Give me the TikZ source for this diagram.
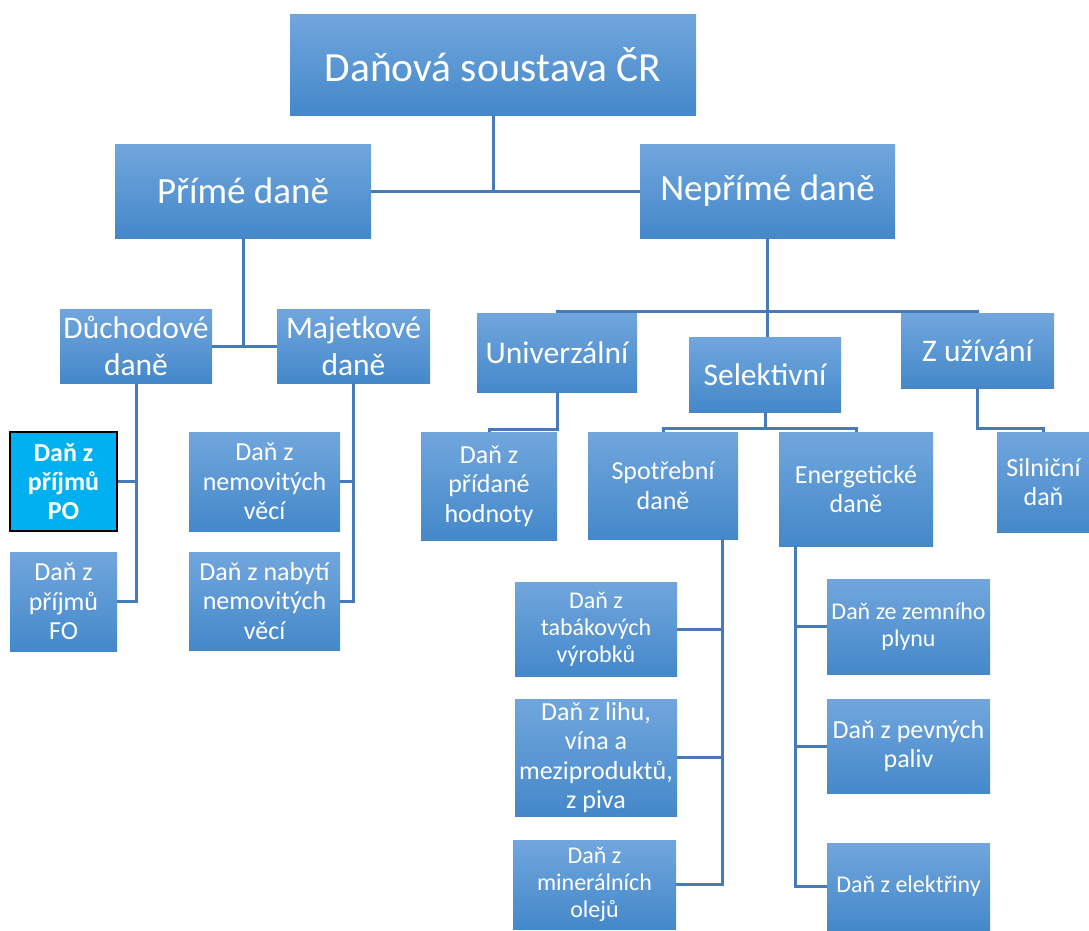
\documentclass[tikz,border=0pt]{standalone}
\usepackage{fontspec}
\setmainfont{Carlito}
\usepackage{tikz}
\usetikzlibrary{positioning}
\definecolor{tbtop}{RGB}{113,166,221}
\definecolor{tbbot}{RGB}{68,136,202}
\definecolor{tbsel}{RGB}{0,176,240}
\definecolor{linkcol}{RGB}{70,122,184}
\tikzset{
  dan schemes/.style = {
    x = 1pt, y = -1pt,
    % boxes
    tb/.style   = {rectangle, inner sep=0pt, align=center, text=white,
                   top color=tbtop, bottom color=tbbot},
    tbpick/.style = {tb, fill=tbsel, top color=tbsel, bottom color=tbsel,
                   draw=black, line width=2.5pt},
    % font sizes
    f0/.style = {font=\fontsize{41.5}{48}\selectfont},
    f1/.style = {font=\fontsize{37}{44}\selectfont},
    f2/.style = {font=\fontsize{31.5}{37}\selectfont},
    f3/.style = {font=\fontsize{26}{29.5}\selectfont},
    f3b/.style = {font=\bfseries\fontsize{26}{29}\selectfont},
    f4/.style = {font=\fontsize{24}{27}\selectfont},
    % lines
    link line/.style = {line width=3pt, linkcol},
  }
}
\begin{document}
\begin{tikzpicture}[dan schemes]
\def\tbox#1(#2)<#3,#4>[#5] at (#6);{
  \node[#1, minimum width=#3, minimum height=#4] (#2) at (#6) {#5};}

\useasboundingbox (0,0) rectangle (1089,930);

%--------------------------------------------- levels 0, 1
\tbox{tb,f0}(root)<406,101>[Daňová soustava ČR] at (493,64.5);
\tbox{tb,f1}(prime)<256,94>[Přímé daně] at (243,191);
\tbox{tb,f1}(neprime)<255,94>[Nepřímé daně] at (767.5,191);

%--------------------------------------------- přímé daně
\tbox{tb,f2}(duch)<152,74>[Důchodové\\daně] at (136,346);
\tbox{tb,f2}(majet)<153,74>[Majetkové\\daně] at (353.5,346);
\tbox{tbpick,f3b}(po)<107,99>[Daň z\\příjmů\\PO] at (63.5,481.5);
\tbox{tb,f3}(fo)<107,99>[Daň z\\příjmů\\FO] at (63.5,601.5);
\tbox{tb,f3}(nemov)<151,99>[Daň z\\nemovitých\\věcí] at (264.5,481.5);
\tbox{tb,f3}(nabyti)<151,98>[Daň z nabytí\\nemovitých\\věcí] at (264.5,601);

%--------------------------------------------- nepřímé daně
\tbox{tb,f2}(univ)<160,79>[Univerzální] at (557,352.5);
\tbox{tb,f2}(selekt)<152,75>[Selektivní] at (765,374.5);
\tbox{tb,f2}(zuziv)<153,75>[Z užívání] at (977.5,350.5);
\tbox{tb,f3}(dph)<136,108>[Daň z\\přídané\\hodnoty] at (489,486);
\tbox{tb,f3}(spotr)<150,107>[Spotřební\\daně] at (663,485.5);
\tbox{tb,f3}(energ)<154,114>[Energetické\\daně] at (856,489);
\tbox{tb,f3}(silnic)<93,100>[Silniční\\daň] at (1043.5,482);

\tbox{tb,f4}(tabak)<162,94>[Daň z\\tabákových\\výrobků] at (596,629);
\tbox{tb,f3}(lihu)<162,117>[Daň z lihu,\\vína a\\meziproduktů,\\z piva] at (596,757.5);
\tbox{tb,f4}(miner)<163,89>[Daň z\\minerálních\\olejů] at (594.5,884.5);
\tbox{tb,f4}(zemni)<163,95>[Daň ze zemního\\plynu] at (908.5,626.5);
\tbox{tb,f3}(pevne)<163,94>[Daň z pevných\\paliv] at (908.5,746);
\tbox{tb,f4}(elektr)<163,87>[Daň z elektřiny] at (908.5,886.5);

%--------------------------------------------- bus points
\coordinate (nbus) at (767.5,311);
\coordinate (ubus) at (557,429);
\coordinate (sbus) at (765,428);
\coordinate (zbus) at (977.5,428);
\coordinate (spin) at (722,539);
\coordinate (enin) at (795,546);

%--------------------------------------------- connectors
\draw[link line] (root.south) -- (root.south |- prime.east);
\draw[link line] (prime.east) -- (neprime.west);

\draw[link line] (prime.south) -- (prime.south |- duch.east);
\draw[link line] (duch.east) -- (majet.west);
\draw[link line] (duch.south) |- (fo.east);
\draw[link line] (po.east) -- (po.east -| duch.south);
\draw[link line] (majet.south) |- (nabyti.east);
\draw[link line] (nemov.east) -- (nemov.east -| majet.south);

\draw[link line] (neprime.south) -- (nbus);
\draw[link line] (univ.north) |- (nbus) -| (zuziv.north);
\draw[link line] (nbus) -- (nbus |- selekt.north);
\draw[link line] (univ.south) -- (ubus) -| (dph.north);
\draw[link line] (selekt.south) -- (sbus);
\draw[link line] (spotr.north) |- (sbus) -| (energ.north);
\draw[link line] (zuziv.south) -- (zbus) -| (silnic.north);

\draw[link line] (spin) |- (miner.east);
\draw[link line] (tabak.east) -- (tabak.east -| spin);
\draw[link line] (lihu.east) -- (lihu.east -| spin);
\draw[link line] (enin) |- (elektr.west);
\draw[link line] (zemni.west) -- (zemni.west -| enin);
\draw[link line] (pevne.west) -- (pevne.west -| enin);
\end{tikzpicture}
\end{document}
